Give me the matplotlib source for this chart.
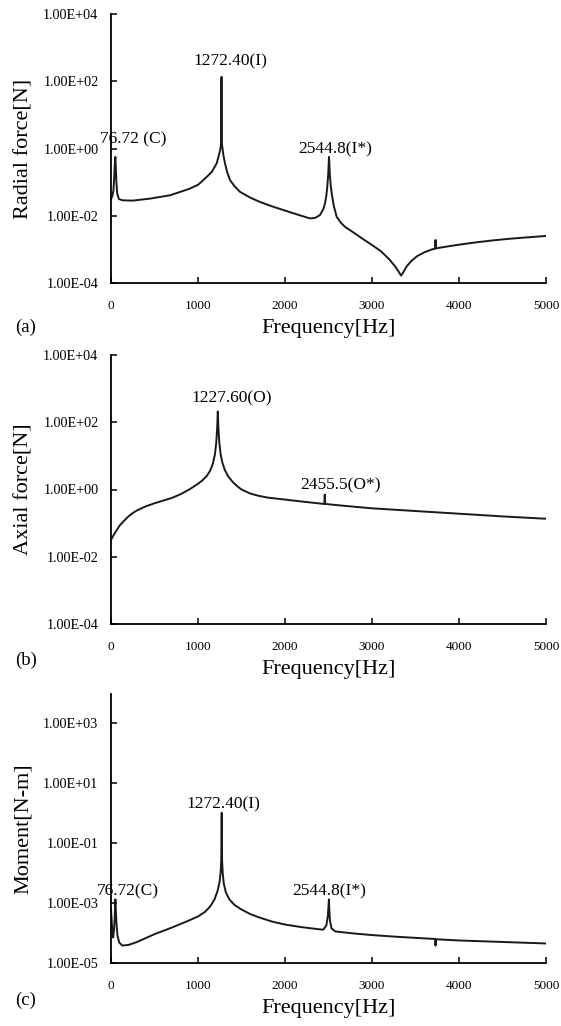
import numpy as np
import matplotlib
matplotlib.use('Agg')
import matplotlib.pyplot as plt
from matplotlib.ticker import FixedLocator, FuncFormatter, NullLocator

plt.rcParams['font.family'] = ['Liberation Serif', 'DejaVu Serif']

# values, stored as log10 of the quantity

# (a) radial force [N]
freq_a = [0, 15, 28, 36, 42, 47, 50, 55, 62, 72, 90, 130, 250, 450, 680, 900, 1000,
          1060, 1110, 1160, 1215, 1245, 1258, 1264, 1268, 1270, 1272, 1276, 1282,
          1292, 1310, 1335, 1368, 1420, 1483, 1600, 1713, 1850, 1981, 2150, 2287,
          2350, 2402, 2440, 2460, 2475, 2486, 2496, 2506, 2516, 2526, 2537, 2560,
          2594, 2640, 2690, 2800, 2900, 3000, 3100, 3200, 3270, 3310, 3335, 3360,
          3400, 3450, 3520, 3600, 3690, 3725, 3730, 3735, 3850, 4000, 4200, 4400,
          4600, 4800, 5000]
log_force_a = [-1.5, -1.42, -1.25, -0.9, -0.55, -0.35, -0.25, -0.55, -1.0, -1.35, -1.5,
               -1.54, -1.55, -1.49, -1.39, -1.2, -1.08, -0.94, -0.82, -0.69, -0.44,
               -0.15, 0.0, 0.1, 0.6, 2.13, 0.6, 0.1, 0.0, -0.2, -0.44, -0.7, -0.94,
               -1.12, -1.29, -1.46, -1.59, -1.72, -1.83, -1.97, -2.08, -2.06, -1.98,
               -1.8, -1.63, -1.4, -1.14, -0.8, -0.25, -0.8, -1.1, -1.34, -1.7, -2.03,
               -2.2, -2.33, -2.52, -2.7, -2.87, -3.05, -3.3, -3.52, -3.68, -3.78,
               -3.68, -3.5, -3.35, -3.2, -3.09, -3.0, -2.98, -2.72, -2.97, -2.92,
               -2.86, -2.79, -2.73, -2.68, -2.64, -2.6]

# (b) axial force [N]
freq_b = [0, 25, 50, 100, 150, 200, 250, 300, 400, 500, 600, 700, 800, 900, 1000, 1050,
          1100, 1140, 1170, 1195, 1210, 1220, 1227.6, 1235, 1245, 1260, 1280, 1310,
          1350, 1400, 1450, 1500, 1600, 1700, 1800, 2000, 2200, 2452, 2457, 2462,
          2700, 3000, 3500, 4000, 4500, 5000]
log_force_b = [-1.5, -1.38, -1.27, -1.07, -0.93, -0.8, -0.7, -0.62, -0.5, -0.41, -0.33,
               -0.25, -0.14, 0.0, 0.17, 0.27, 0.4, 0.56, 0.76, 1.05, 1.4, 1.8, 2.32,
               1.8, 1.4, 1.05, 0.8, 0.57, 0.38, 0.22, 0.1, 0.0, -0.12, -0.19, -0.24,
               -0.3, -0.36, -0.43, -0.15, -0.43, -0.49, -0.56, -0.64, -0.72, -0.8, -0.87]

# (c) moment [N-m]
freq_c = [0, 12, 25, 35, 42, 47, 50, 55, 63, 75, 95, 130, 200, 300, 400, 500,
          600, 700, 800, 900, 1000, 1080, 1140, 1190, 1225, 1248, 1260, 1267, 1272.4,
          1277, 1284, 1296, 1320, 1360, 1420, 1500, 1600, 1700, 1850, 2000, 2200,
          2400, 2440, 2475, 2492, 2500, 2505, 2509, 2517, 2535, 2580, 2800, 3000,
          3300, 3600, 3725, 3730, 3735, 4000, 4500, 5000]
log_moment_c = [-3.2, -3.8, -4.15, -3.9, -3.5, -3.1, -2.88, -3.2, -3.7, -4.1, -4.32,
                -4.42, -4.4, -4.3, -4.17, -4.04, -3.93, -3.82, -3.7, -3.58, -3.45,
                -3.3, -3.12, -2.88, -2.6, -2.3, -2.0, -1.6, 0.0, -1.6, -2.0, -2.35,
                -2.65, -2.88, -3.07, -3.22, -3.37, -3.48, -3.62, -3.72, -3.81, -3.88,
                -3.89, -3.75, -3.45, -3.1, -2.88, -3.2, -3.6, -3.85, -3.95, -4.02,
                -4.07, -4.13, -4.18, -4.2, -4.42, -4.21, -4.25, -4.3, -4.35]

xticks = [0, 1000, 2000, 3000, 4000, 5000]

panels = [
    dict(f=freq_a, v=log_force_a, ylabel='Radial force[N]', tag='(a)',
         ylim=(1e-4, 1e4), yticks=[1e-4, 1e-2, 1e0, 1e2, 1e4],
         notes=[('76.72 (C)', -132, 10**0.26, 'left'),
                ('1272.40(I)', 1368, 10**2.59, 'center'),
                ('2544.8(I*)', 2576, 10**-0.03, 'center')]),
    dict(f=freq_b, v=log_force_b, ylabel='Axial force[N]', tag='(b)',
         ylim=(1e-4, 1e4), yticks=[1e-4, 1e-2, 1e0, 1e2, 1e4],
         notes=[('1227.60(O)', 1389, 10**2.71, 'center'),
                ('2455.5(O*)', 2642, 10**0.12, 'center')]),
    dict(f=freq_c, v=log_moment_c, ylabel='Moment[N-m]', tag='(c)',
         ylim=(1e-5, 9e3), yticks=[1e-5, 1e-3, 1e-1, 1e1, 1e3],
         notes=[('76.72(C)', -165, 10**-2.63, 'left'),
                ('1272.40(I)', 1294, 10**0.27, 'center'),
                ('2544.8(I*)', 2506, 10**-2.63, 'center')]),
]

W, H = 561, 1026
fig = plt.figure(figsize=(W / 100, H / 100), dpi=100)

# axes boxes in pixels: left, top, right, bottom
boxes = [(111, 14, 546, 283), (111, 355, 546, 624), (111, 694, 546, 963)]
tag_y = [327, 660, 1000]

for p, (l, t, r, b), ty in zip(panels, boxes, tag_y):
    ax = fig.add_axes([l / W, 1 - b / H, (r - l) / W, (b - t) / H])
    ax.semilogy(p['f'], 10 ** np.array(p['v']), color='#1a1a1a', lw=1.4)
    ax.set_xlim(0, 5000)
    ax.set_ylim(*p['ylim'])
    ax.xaxis.set_major_locator(FixedLocator(xticks))
    ax.yaxis.set_major_locator(FixedLocator(p['yticks']))
    ax.yaxis.set_minor_locator(NullLocator())
    ax.yaxis.set_major_formatter(FuncFormatter(lambda v, pos: f'{v:.2E}'))
    ax.spines['top'].set_visible(False)
    ax.spines['right'].set_visible(False)
    for s in ('left', 'bottom'):
        ax.spines[s].set_linewidth(1.3)
    ax.tick_params(axis='both', direction='in', length=4, width=1.1)
    ax.tick_params(axis='x', pad=12, labelsize=9.5)
    ax.tick_params(axis='y', pad=9, labelsize=10.2)
    ax.set_ylabel(p['ylabel'], fontsize=16)
    ax.yaxis.set_label_coords(-0.179, 0.5)
    ax.set_xlabel('Frequency[Hz]', fontsize=16, labelpad=5)
    for txt, x, y, ha in p['notes']:
        ax.text(x, y, txt, fontsize=12.5, ha=ha, va='center', clip_on=False)
    fig.text(15 / W, 1 - ty / H, p['tag'], fontsize=13.5, ha='left', va='center')

fig.savefig('out.png', dpi=100)
